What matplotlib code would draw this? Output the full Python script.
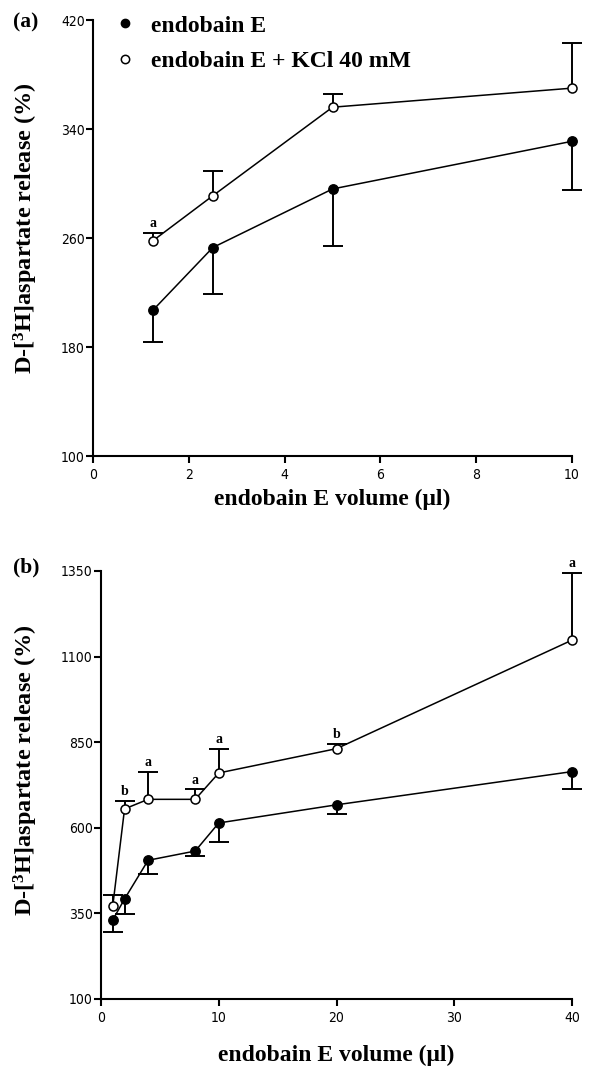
import matplotlib
matplotlib.use("Agg")
import matplotlib.pyplot as plt

# panel (a): volume 1.25-10 ul
a_x = [1.25, 2.5, 5, 10]
a_ctrl = [207, 253, 296, 331]
a_ctrl_err = [23, 34, 42, 36]
a_kcl = [258, 291, 356, 370]
a_kcl_err = [6, 18, 10, 33]
a_kcl_sig = ["a", "", "", ""]

# panel (b): volume 1-40 ul
b_x = [1, 2, 4, 8, 10, 20, 40]
b_ctrl = [331, 392, 505, 532, 614, 667, 764]
b_ctrl_err = [36, 44, 39, 14, 56, 28, 52]
b_kcl = [372, 655, 683, 683, 760, 831, 1148]
b_kcl_err = [33, 24, 81, 29, 71, 14, 197]
b_kcl_sig = ["", "b", "a", "a", "a", "b", "a"]

a_xticks = [0, 2, 4, 6, 8, 10]
a_yticks = [100, 180, 260, 340, 420]
b_xticks = [0, 10, 20, 30, 40]
b_yticks = [100, 350, 600, 850, 1100, 1350]

SERIF = ["Liberation Serif", "DejaVu Serif"]
plt.rcParams["mathtext.fontset"] = "custom"
plt.rcParams["mathtext.rm"] = "Liberation Serif"
plt.rcParams["mathtext.bf"] = "Liberation Serif:bold"
YLABEL = "D-[$\\mathbf{^{3}}$H]aspartate release (%)"
XLABEL = "endobain E volume (\u03bcl)"
BIG = 17


def one_sided(ax, x, y, err, down):
    zeros = [0] * len(x)
    yerr = [err, zeros] if down else [zeros, err]
    _, caps, _ = ax.errorbar(x, y, yerr=yerr, fmt="none", ecolor="black",
                             elinewidth=1.4, capsize=7, capthick=1.4,
                             zorder=2, clip_on=False)
    # drop the zero-length cap sitting on the marker
    for c in caps:
        if list(c.get_ydata()) == list(y):
            c.remove()
        else:
            c.set_clip_on(False)


def draw_panel(ax, x, ctrl, ctrl_err, kcl, kcl_err, sig):
    one_sided(ax, x, ctrl, ctrl_err, True)
    one_sided(ax, x, kcl, kcl_err, False)
    ax.plot(x, ctrl, "-o", color="black", lw=1.1, ms=6.8,
            mfc="black", mec="black", zorder=3, clip_on=False, label="endobain E")
    ax.plot(x, kcl, "-o", color="black", lw=1.1, ms=6.5,
            mfc="white", mec="black", mew=1.1, zorder=3, clip_on=False,
            label="endobain E + KCl 40 mM")
    for xi, yi, ei, s in zip(x, kcl, kcl_err, sig):
        if s:
            ax.annotate(s, (xi, yi + ei), xytext=(0, 2), textcoords="offset points",
                        ha="center", va="bottom", fontsize=10, fontweight="bold",
                        family=SERIF, annotation_clip=False)
    for side in ["top", "right"]:
        ax.spines[side].set_visible(False)
    for side in ["left", "bottom"]:
        ax.spines[side].set_linewidth(1.5)
    ax.tick_params(direction="out", length=5, width=1.5, labelsize=10)
    ax.tick_params(axis="y", pad=1)
    ax.tick_params(axis="x", pad=3.5)
    for lab in ax.get_xticklabels() + ax.get_yticklabels():
        lab.set_family("DejaVu Sans")
        lab.set_fontstretch("condensed")
    ax.set_xlabel(XLABEL, family=SERIF, fontweight="bold", fontsize=BIG)
    ax.set_ylabel(YLABEL, family=SERIF, fontweight="bold", fontsize=BIG + 0.5)


fig = plt.figure(figsize=(5.91, 10.70), dpi=100)

ax_a = fig.add_axes([0.1574, 0.5738, 0.8105, 0.4075])
ax_a.set_xlim(0, 10)
ax_a.set_ylim(100, 420)
ax_a.set_xticks(a_xticks)
ax_a.set_yticks(a_yticks)
draw_panel(ax_a, a_x, a_ctrl, a_ctrl_err, a_kcl, a_kcl_err, a_kcl_sig)
ax_a.xaxis.set_label_coords(0.5, -0.075)
ax_a.yaxis.set_label_coords(-0.111, 0.523)
leg = ax_a.legend(loc="upper left", bbox_to_anchor=(0.067, 1.011), frameon=False,
                  borderpad=0, borderaxespad=0, handlelength=0, handletextpad=1.1,
                  labelspacing=0.6,
                  prop={"family": SERIF, "weight": "bold", "size": BIG})
for h in leg.legend_handles:
    h.set_markersize(6)

ax_b = fig.add_axes([0.1709, 0.0664, 0.797, 0.40])
ax_b.set_xlim(0, 40)
ax_b.set_ylim(100, 1350)
ax_b.set_xticks(b_xticks)
ax_b.set_yticks(b_yticks)
draw_panel(ax_b, b_x, b_ctrl, b_ctrl_err, b_kcl, b_kcl_err, b_kcl_sig)
ax_b.xaxis.set_label_coords(0.5, -0.107)
ax_b.yaxis.set_label_coords(-0.13, 0.535)

fig.text(13 / 591, 1 - 22 / 1070, "(a)", family=SERIF, fontweight="bold",
         fontsize=15.5, va="center", ha="left")
fig.text(13 / 591, 1 - 567 / 1070, "(b)", family=SERIF, fontweight="bold",
         fontsize=15.5, va="center", ha="left")

fig.savefig("out.png", dpi=100)
